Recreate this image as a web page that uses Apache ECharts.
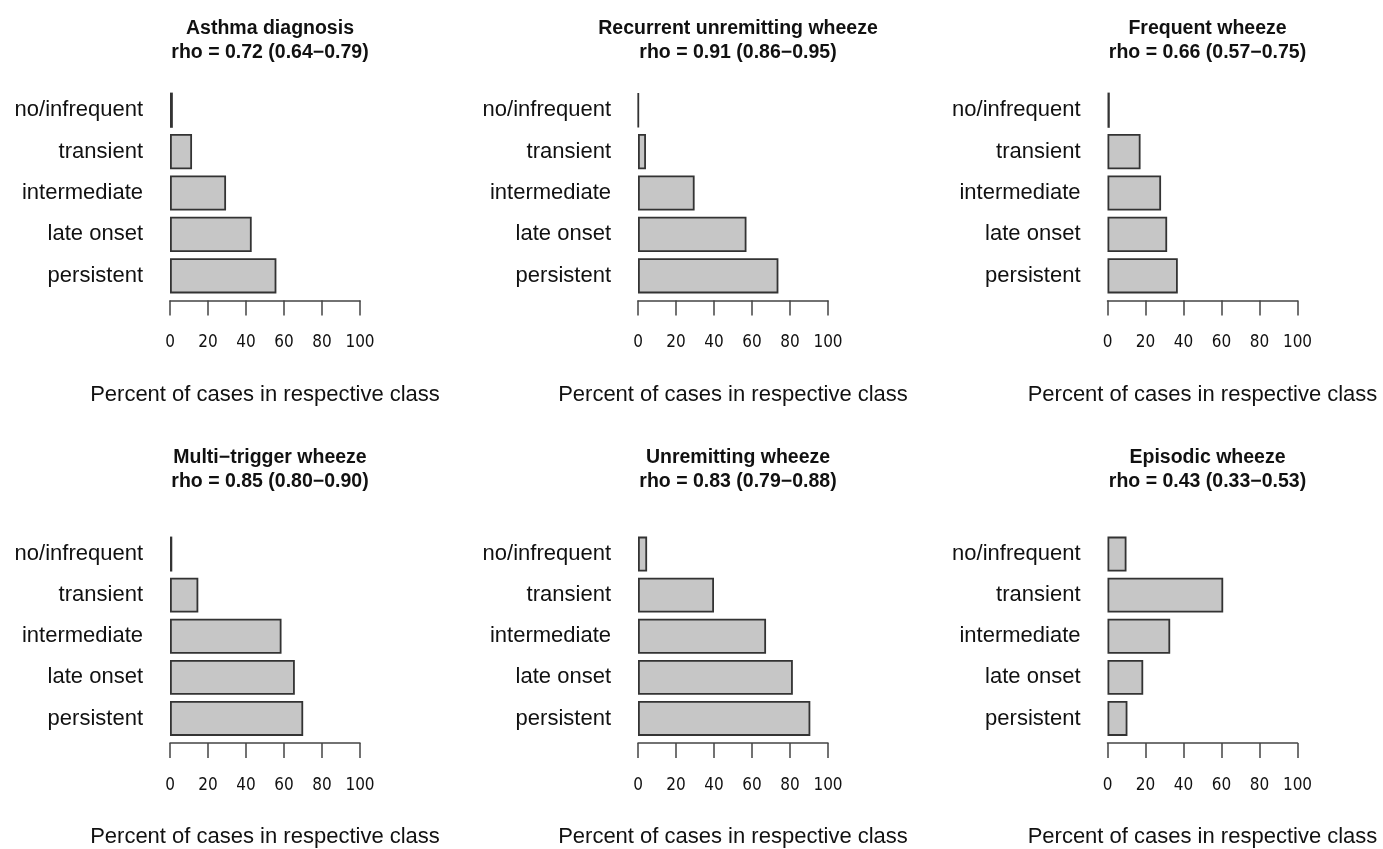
<!DOCTYPE html>
<html>
<head>
<meta charset="utf-8">
<title>Wheeze phenotypes by class</title>
<script src="https://cdn.jsdelivr.net/npm/echarts@6/dist/echarts.min.js"></script>
<style>
  html, body { margin: 0; padding: 0; background: #ffffff; }
  #chart { width: 1383px; height: 849px; }
</style>
</head>
<body>
<div id="chart"></div>
<script>
// Trajectory classes (top to bottom in each panel)
const categories = ['no/infrequent', 'transient', 'intermediate', 'late onset', 'persistent'];

// Percent of cases in each class, per outcome
const asthmaDiagnosis      = [1.5, 11.6, 29.5, 43.0, 56.0];
const recurrentUnremitting = [0.3, 4.2, 29.8, 57.1, 73.9];
const frequentWheeze       = [1.2, 17.4, 28.2, 31.4, 37.0];
const multiTriggerWheeze   = [1.2, 14.9, 58.7, 65.7, 70.1];
const unremittingWheeze    = [4.8, 40.0, 67.4, 81.5, 90.7];
const episodicWheeze       = [10.0, 60.9, 33.0, 18.8, 10.5];

// Panel headings
const panelTitles = [
  'Asthma diagnosis', 'Recurrent unremitting wheeze', 'Frequent wheeze',
  'Multi\u2212trigger wheeze', 'Unremitting wheeze', 'Episodic wheeze'
];
const panelRho = [
  'rho = 0.72 (0.64\u22120.79)', 'rho = 0.91 (0.86\u22120.95)', 'rho = 0.66 (0.57\u22120.75)',
  'rho = 0.85 (0.80\u22120.90)', 'rho = 0.83 (0.79\u22120.88)', 'rho = 0.43 (0.33\u22120.53)'
];
const xTicks = [0, 20, 40, 60, 80, 100];
const xAxisTitle = 'Percent of cases in respective class';

const panelData = [asthmaDiagnosis, recurrentUnremitting, frequentWheeze,
                   multiTriggerWheeze, unremittingWheeze, episodicWheeze];

// Layout of the 3 x 2 panel grid
const colLeft = [170, 638, 1107.5];
const plotWidth = 190;
const rowTop = [89.5, 533.5];
const plotHeight = 207;
const titleTop = [12, 440.5];

const FONT = '"Liberation Sans", Arial, Helvetica, sans-serif';
const NARROW = '"Liberation Sans Narrow", "DejaVu Sans Condensed", "Liberation Sans", sans-serif';

const grids = [], xAxes = [], yAxes = [], series = [], titles = [];
panelData.forEach((vals, i) => {
  const col = i % 3, row = Math.floor(i / 3);
  grids.push({ left: colLeft[col], top: rowTop[row], width: plotWidth, height: plotHeight, containLabel: false });
  titles.push({
    text: panelTitles[i] + '\n' + panelRho[i],
    left: colLeft[col] + plotWidth / 2,
    top: titleTop[row],
    textAlign: 'center',
    textStyle: { fontFamily: FONT, fontWeight: 'bold', fontSize: 19.5, lineHeight: 24, color: '#111' }
  });
  xAxes.push({
    gridIndex: i, type: 'value', min: xTicks[0], max: xTicks[xTicks.length - 1], interval: 20,
    offset: 4,
    name: xAxisTitle, nameLocation: 'middle', nameGap: 83,
    nameTextStyle: { fontFamily: FONT, fontSize: 22, color: '#111' },
    axisLine: { show: true, lineStyle: { color: '#444', width: 1.5 } },
    axisTick: { show: true, length: 15, lineStyle: { color: '#444', width: 1.5 } },
    axisLabel: { fontFamily: NARROW, fontSize: 17, color: '#111', margin: 34 },
    splitLine: { show: false }
  });
  yAxes.push({
    gridIndex: i, type: 'category', data: categories, inverse: true,
    axisLine: { show: false }, axisTick: { show: false },
    axisLabel: { fontFamily: FONT, fontSize: 22, color: '#111', margin: 27 },
    splitLine: { show: false }
  });
  series.push({
    type: 'bar', xAxisIndex: i, yAxisIndex: i, data: vals,
    barCategoryGap: '15%',
    itemStyle: { color: '#c6c6c6', borderColor: '#333333', borderWidth: 1.8 },
    silent: true, animation: false
  });
});

const chart = echarts.init(document.getElementById('chart'), null, { renderer: 'canvas' });
chart.setOption({
  backgroundColor: '#ffffff',
  animation: false,
  title: titles,
  grid: grids,
  xAxis: xAxes,
  yAxis: yAxes,
  series: series
});
</script>
</body>
</html>
